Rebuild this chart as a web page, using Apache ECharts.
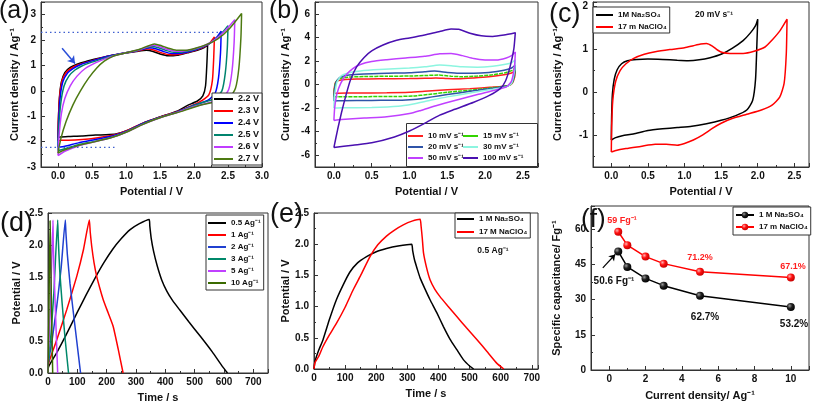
<!DOCTYPE html>
<html><head><meta charset="utf-8">
<script src="https://cdn.jsdelivr.net/npm/echarts@6/dist/echarts.min.js"></script>
<style>html,body{margin:0;padding:0;background:#fff}#c{width:813px;height:404px}</style>
</head><body><div id="c"></div>
<script>
// ---------- Panel (a): CV at different voltage windows ----------
const aLabels = ['2.2 V','2.3 V','2.4 V','2.5 V','2.6 V','2.7 V'];
const a22 = [[0,-1.85],[0.005,-1.2],[0.02,-0.3],[0.05,0.35],[0.1,0.72],[0.18,0.92],[0.28,1.05],[0.4,1.15],[0.6,1.28],[0.8,1.4],[1.0,1.49],[1.15,1.55],[1.3,1.6],[1.4,1.55],[1.5,1.45],[1.62,1.38],[1.75,1.4],[1.9,1.5],[2.05,1.6],[2.15,1.7],[2.2,1.82],[2.19,1.1],[2.17,0.2],[2.13,-0.2],[2.05,-0.4],[1.9,-0.58],[1.75,-0.8],[1.5,-1.03],[1.25,-1.27],[1.0,-1.58],[0.85,-1.7],[0.7,-1.73],[0.55,-1.74],[0.35,-1.78],[0.15,-1.8],[0.03,-1.82],[0,-1.85]];
const a23 = [[0,-1.97],[0.005,-1.2],[0.025,-0.2],[0.06,0.4],[0.12,0.72],[0.2,0.9],[0.3,1.03],[0.45,1.15],[0.6,1.27],[0.8,1.4],[1.0,1.5],[1.15,1.56],[1.32,1.65],[1.42,1.6],[1.52,1.5],[1.64,1.42],[1.78,1.44],[1.95,1.55],[2.1,1.68],[2.22,1.85],[2.3,2.12],[2.29,1.3],[2.27,0.4],[2.22,-0.15],[2.12,-0.38],[2.0,-0.55],[1.75,-0.82],[1.5,-1.03],[1.25,-1.27],[1.0,-1.58],[0.85,-1.72],[0.65,-1.82],[0.45,-1.9],[0.25,-1.94],[0.05,-1.95],[0,-1.97]];
const a24 = [[0,-2.22],[0.008,-1.3],[0.03,-0.3],[0.07,0.35],[0.14,0.7],[0.22,0.88],[0.32,1.02],[0.45,1.14],[0.6,1.26],[0.8,1.4],[1.0,1.5],[1.15,1.57],[1.35,1.7],[1.45,1.65],[1.55,1.55],[1.67,1.47],[1.8,1.48],[1.95,1.56],[2.1,1.7],[2.25,1.9],[2.33,2.1],[2.4,2.35],[2.39,1.5],[2.36,0.5],[2.31,-0.1],[2.2,-0.38],[2.0,-0.57],[1.75,-0.83],[1.5,-1.04],[1.25,-1.28],[1.0,-1.6],[0.8,-1.78],[0.55,-1.92],[0.3,-2.05],[0.1,-2.18],[0,-2.22]];
const a25 = [[0,-2.35],[0.01,-1.5],[0.04,-0.5],[0.09,0.2],[0.16,0.58],[0.25,0.82],[0.35,0.98],[0.5,1.13],[0.65,1.26],[0.8,1.38],[1.0,1.5],[1.15,1.58],[1.38,1.75],[1.48,1.7],[1.58,1.6],[1.7,1.52],[1.82,1.53],[1.97,1.6],[2.12,1.73],[2.27,1.95],[2.4,2.25],[2.5,2.57],[2.49,1.7],[2.46,0.7],[2.41,0.0],[2.3,-0.32],[2.1,-0.48],[1.9,-0.68],[1.75,-0.84],[1.5,-1.05],[1.25,-1.3],[1.0,-1.62],[0.8,-1.82],[0.55,-1.98],[0.3,-2.12],[0.1,-2.28],[0,-2.35]];
const a26 = [[0,-2.55],[0.015,-1.8],[0.05,-0.9],[0.1,-0.3],[0.18,0.2],[0.28,0.58],[0.4,0.88],[0.55,1.1],[0.7,1.27],[0.85,1.4],[1.0,1.5],[1.2,1.62],[1.4,1.8],[1.5,1.74],[1.6,1.64],[1.72,1.56],[1.85,1.57],[2.0,1.65],[2.15,1.78],[2.3,2.0],[2.45,2.35],[2.6,2.8],[2.59,1.9],[2.56,0.8],[2.51,0.05],[2.42,-0.28],[2.25,-0.45],[2.0,-0.62],[1.75,-0.85],[1.5,-1.06],[1.25,-1.32],[1.0,-1.63],[0.8,-1.83],[0.55,-2.0],[0.3,-2.17],[0.1,-2.38],[0,-2.55]];
const a27 = [[0,-2.45],[0.04,-1.9],[0.12,-1.2],[0.22,-0.55],[0.33,0.0],[0.45,0.5],[0.57,0.9],[0.68,1.17],[0.8,1.35],[0.9,1.43],[1.0,1.5],[1.2,1.64],[1.42,1.85],[1.52,1.78],[1.62,1.68],[1.74,1.6],[1.88,1.6],[2.02,1.68],[2.18,1.82],[2.35,2.05],[2.52,2.45],[2.7,3.05],[2.69,2.1],[2.66,0.9],[2.61,0.1],[2.52,-0.28],[2.35,-0.42],[2.1,-0.56],[1.85,-0.78],[1.5,-1.06],[1.25,-1.32],[1.0,-1.63],[0.8,-1.83],[0.55,-2.0],[0.3,-2.15],[0.1,-2.32],[0,-2.45]];
const aGuideHigh = [[-0.25,2.3],[2.4,2.3]];
const aGuideLow = [[-0.25,-2.23],[0.85,-2.23]];
const aArrow = [[0.06,1.68],[0.25,1.08]];

// ---------- Panel (b): CV at different scan rates ----------
const bLabels = ['10 mV s⁻¹','15 mV s⁻¹','20 mV s⁻¹','30 mV s⁻¹','50 mV s⁻¹','100 mV s⁻¹'];
const b10 = [[0,-0.75],[0.005,-0.3],[0.02,0.15],[0.06,0.33],[0.15,0.42],[0.3,0.46],[0.6,0.48],[1.0,0.5],[1.2,0.53],[1.35,0.56],[1.5,0.5],[1.65,0.48],[1.85,0.55],[2.05,0.65],[2.25,0.82],[2.35,0.98],[2.4,1.15],[2.39,0.6],[2.36,0.1],[2.3,-0.1],[2.1,-0.22],[1.8,-0.35],[1.5,-0.45],[1.2,-0.58],[1.0,-0.66],[0.7,-0.7],[0.3,-0.72],[0.05,-0.74],[0,-0.75]];
const b15 = [[0,-1.05],[0.006,-0.4],[0.025,0.2],[0.07,0.48],[0.18,0.62],[0.4,0.67],[0.7,0.7],[1.0,0.72],[1.2,0.76],[1.38,0.8],[1.55,0.7],[1.7,0.66],[1.9,0.72],[2.1,0.82],[2.28,1.02],[2.36,1.2],[2.4,1.45],[2.39,0.8],[2.36,0.15],[2.3,-0.1],[2.1,-0.28],[1.8,-0.48],[1.5,-0.66],[1.25,-0.85],[1.05,-0.98],[0.8,-1.02],[0.4,-1.03],[0.05,-1.04],[0,-1.05]];
const b20 = [[0,-1.4],[0.006,-0.6],[0.03,0.2],[0.08,0.6],[0.2,0.8],[0.4,0.9],[0.7,0.96],[1.0,1.0],[1.2,1.08],[1.33,1.14],[1.5,1.02],[1.65,0.95],[1.85,0.95],[2.05,1.02],[2.25,1.2],[2.35,1.4],[2.4,1.65],[2.39,0.9],[2.36,0.2],[2.3,-0.12],[2.1,-0.32],[1.8,-0.58],[1.5,-0.85],[1.3,-1.05],[1.1,-1.25],[0.9,-1.33],[0.5,-1.35],[0.1,-1.38],[0,-1.4]];
const b30 = [[0,-2.0],[0.008,-1.0],[0.04,0.2],[0.1,0.75],[0.2,1.0],[0.35,1.15],[0.6,1.27],[1.0,1.4],[1.2,1.5],[1.4,1.65],[1.55,1.6],[1.7,1.5],[1.9,1.47],[2.1,1.55],[2.27,1.72],[2.35,1.85],[2.4,2.1],[2.39,1.2],[2.35,0.1],[2.28,-0.2],[2.1,-0.4],[1.8,-0.72],[1.5,-1.05],[1.25,-1.38],[1.05,-1.65],[0.85,-1.85],[0.5,-1.95],[0.1,-1.98],[0,-2.0]];
const b50 = [[0,-3.05],[0.01,-2.0],[0.04,-0.8],[0.09,0.1],[0.16,0.8],[0.25,1.35],[0.35,1.7],[0.5,1.95],[0.7,2.1],[0.95,2.25],[1.2,2.4],[1.4,2.6],[1.55,2.63],[1.7,2.45],[1.85,2.2],[2.0,2.08],[2.15,2.07],[2.28,2.25],[2.35,2.45],[2.4,2.75],[2.39,1.6],[2.35,0.3],[2.28,-0.2],[2.15,-0.45],[1.9,-0.85],[1.6,-1.35],[1.35,-1.8],[1.15,-2.2],[1.0,-2.47],[0.7,-2.73],[0.4,-2.85],[0.1,-2.98],[0,-3.05]];
const b100 = [[0,-5.35],[0.05,-3.8],[0.1,-2.4],[0.16,-0.9],[0.22,0.4],[0.3,1.5],[0.4,2.3],[0.5,2.85],[0.65,3.35],[0.83,3.75],[1.0,3.95],[1.2,4.2],[1.4,4.5],[1.55,4.7],[1.65,4.68],[1.8,4.35],[1.95,4.13],[2.1,4.08],[2.25,4.2],[2.4,4.4],[2.38,3.0],[2.33,1.5],[2.27,0.3],[2.2,-0.35],[2.05,-0.95],[1.85,-1.5],[1.6,-2.1],[1.4,-2.6],[1.2,-3.3],[1.0,-3.95],[0.8,-4.45],[0.5,-4.95],[0.25,-5.15],[0,-5.35]];

// ---------- Panel (c): CV comparison of electrolytes ----------
const cLabels = ['1M Na₂SO₄','17 m NaClO₄'];
const cNa2SO4 = [[0,-1.12],[0.004,-0.6],[0.015,-0.05],[0.04,0.3],[0.08,0.52],[0.14,0.66],[0.22,0.73],[0.35,0.76],[0.5,0.77],[0.7,0.76],[0.9,0.74],[1.05,0.73],[1.2,0.75],[1.35,0.8],[1.5,0.88],[1.65,1.02],[1.8,1.2],[1.9,1.38],[1.97,1.55],[2.0,1.7],[1.99,1.2],[1.97,0.3],[1.93,-0.2],[1.85,-0.42],[1.7,-0.55],[1.5,-0.66],[1.3,-0.74],[1.1,-0.8],[0.9,-0.83],[0.7,-0.86],[0.5,-0.9],[0.3,-0.98],[0.15,-1.02],[0.05,-1.07],[0,-1.12]];
const cNaClO4 = [[0,-1.4],[0.005,-0.8],[0.02,-0.2],[0.06,0.25],[0.12,0.5],[0.2,0.66],[0.3,0.78],[0.45,0.88],[0.6,0.94],[0.8,0.99],[1.0,1.03],[1.12,1.08],[1.22,1.12],[1.3,1.13],[1.38,1.07],[1.45,0.98],[1.52,0.92],[1.62,0.9],[1.8,0.9],[1.95,0.95],[2.1,1.05],[2.2,1.22],[2.3,1.42],[2.4,1.7],[2.39,0.9],[2.36,0.2],[2.3,-0.12],[2.2,-0.3],[2.05,-0.42],[1.85,-0.52],[1.65,-0.62],[1.5,-0.73],[1.38,-0.85],[1.25,-1.0],[1.12,-1.12],[1.0,-1.2],[0.9,-1.24],[0.75,-1.22],[0.6,-1.22],[0.4,-1.27],[0.2,-1.32],[0.05,-1.37],[0,-1.4]];

// ---------- Panel (d): GCD at different current densities ----------
const dLabels = ['0.5 Ag⁻¹','1 Ag⁻¹','2 Ag⁻¹','3 Ag⁻¹','5 Ag⁻¹','10 Ag⁻¹'];
const d05 = [[0,0],[2,0.1],[30,0.32],[60,0.58],[100,0.95],[130,1.22],[160,1.48],[190,1.72],[220,1.93],[250,2.1],[280,2.24],[310,2.33],[345,2.4],[347,2.3],[352,2.1],[360,1.9],[372,1.68],[388,1.45],[405,1.28],[425,1.13],[450,0.98],[480,0.8],[520,0.57],[560,0.33],[595,0.1],[612,0]];
const d1 = [[0,0],[2,0.15],[30,0.52],[64,0.99],[98,1.51],[121,1.93],[141,2.39],[144,2.2],[149,1.98],[157,1.72],[166,1.51],[177,1.32],[188,1.15],[205,0.94],[222,0.73],[239,0.38],[256,0]];
const d2 = [[0,0],[1,0.15],[15,0.55],[30,1.05],[45,1.65],[59,2.39],[61,2.2],[66,1.85],[75,1.4],[85,1.0],[98,0.5],[111,0]];
const d3 = [[0,0],[1,0.15],[10,0.6],[20,1.25],[33,2.39],[35,2.1],[40,1.6],[48,1.1],[58,0.55],[70,0]];
const d5 = [[0,0],[0.5,0.2],[8,1.0],[17,2.39],[18,2.0],[22,1.4],[27,0.75],[33,0]];
const d10 = [[0,0],[3,0.9],[7,2.38],[9,1.9],[12,1.0],[16,0]];

// ---------- Panel (e): GCD comparison at 0.5 A/g ----------
const eLabels = ['1 M Na₂SO₄','17 M NaClO₄'];
const eNa2SO4 = [[0,0],[3,0.12],[15,0.3],[29,0.47],[50,0.8],[72,1.11],[95,1.36],[115,1.55],[140,1.7],[169,1.8],[200,1.88],[233,1.93],[270,1.97],[314,2.0],[317,1.9],[323,1.75],[332,1.6],[341,1.46],[357,1.28],[373,1.11],[395,0.9],[416,0.68],[437,0.48],[459,0.31],[480,0.15],[502,0.04],[513,0]];
const eNaClO4 = [[0,0],[3,0.1],[15,0.2],[29,0.36],[50,0.55],[72,0.73],[100,0.99],[126,1.27],[150,1.5],[180,1.8],[205,1.99],[233,2.13],[260,2.23],[287,2.31],[315,2.37],[341,2.4],[344,2.3],[348,2.1],[352,1.86],[362,1.62],[373,1.43],[388,1.28],[405,1.16],[430,1.01],[459,0.84],[490,0.66],[524,0.47],[556,0.28],[588,0.09],[610,0]];

// ---------- Panel (f): specific capacitance vs current density ----------
const fLabels = ['1 M Na₂SO₄','17 m NaClO₄'];
const fCurrent = [0.5,1,2,3,5,10];
const fNa2SO4 = [50.6,44,39.1,36,31.7,26.9];
const fNaClO4 = [59,53.3,48.4,45.4,41.9,39.5];
const fArrow = [[-0.35,43.6],[0.33,49.3]];

// ---------- build ----------
const F = 'Liberation Sans, Arial, sans-serif';
const TXT = '#111';
const grids = [
  {left:41, top:2, width:221, height:165},
  {left:315, top:2, width:223, height:165},
  {left:593, top:2, width:216, height:165},
  {left:48, top:213, width:220, height:160},
  {left:314, top:213, width:224, height:156},
  {left:591, top:206, width:218, height:164}
].map(g => Object.assign({show:true, borderColor:'#333', borderWidth:1, backgroundColor:'transparent'}, g));

function ax(gi, min, max, name, gap, lab, extra) {
  return Object.assign({
    type:'value', gridIndex:gi, min:min, max:max, name:name, nameLocation:'middle', nameGap:gap,
    nameTextStyle:{fontFamily:F, fontWeight:'bold', fontSize:11, color:TXT},
    axisLine:{show:true, onZero:false, lineStyle:{color:'#333', width:1}},
    axisTick:{show:true, inside:true, length:4, lineStyle:{color:'#333'}},
    minorTick:{show:true, splitNumber:2, length:2, lineStyle:{color:'#333'}},
    splitLine:{show:false}, minorSplitLine:{show:false},
    axisLabel:Object.assign({fontFamily:F, fontWeight:'bold', fontSize:10, color:TXT, margin:4}, lab||{})
  }, extra||{});
}
const f1 = v => v.toFixed(1);
const xAxes = [
  ax(0,-0.25,3,'Potential / V',19,{formatter:f1, showMinLabel:false, showMaxLabel:true},{splitNumber:6}),
  ax(1,-0.25,2.7,'Potential / V',19,{formatter:f1, showMinLabel:false, showMaxLabel:false},{splitNumber:6}),
  ax(2,-0.25,2.7,'Potential / V',19,{formatter:f1, showMinLabel:false, showMaxLabel:false},{splitNumber:6}),
  ax(3,0,750,'Time / s',19,{showMinLabel:true, showMaxLabel:false},{interval:100}),
  ax(4,0,720,'Time / s',19,{showMinLabel:true, showMaxLabel:false},{interval:100}),
  ax(5,-1,11,'Current density/ Ag⁻¹',20,{showMinLabel:false, showMaxLabel:false},{splitNumber:6})
];
const yAxes = [
  ax(0,-3,3.5,'Current density / Ag⁻¹',21,{margin:5, showMinLabel:true, showMaxLabel:false},{splitNumber:6}),
  ax(1,-7,7,'Current density / Ag⁻¹',24,{margin:5, showMinLabel:false, showMaxLabel:false},{splitNumber:7}),
  ax(2,-1.75,2.1,'Current density / Ag⁻¹',30,{margin:5, showMinLabel:false, showMaxLabel:false},{splitNumber:4}),
  ax(3,0,2.5,'Potential / V',26,{formatter:f1, margin:5, showMinLabel:true, showMaxLabel:true},{interval:0.5}),
  ax(4,0,2.5,'Potential / V',23,{formatter:f1, margin:5, showMinLabel:true, showMaxLabel:true},{interval:0.5}),
  ax(5,0,70,'Specific capacitance/ Fg⁻¹',29,{margin:5, showMinLabel:true, showMaxLabel:false},{interval:15})
];

function ln(name, gi, data, color, extra) {
  return Object.assign({
    type:'line', name:name, xAxisIndex:gi, yAxisIndex:gi, data:data,
    symbol:'none', showSymbol:false, smooth:0.2, animation:false, silent:true,
    lineStyle:{color:color, width:1.5}, itemStyle:{color:color}
  }, extra||{});
}
const aColors = ['#000000','#ff0000','#0000ff','#00846e','#c03cff','#4d7a12'];
const bColors = ['#ff2020','#33d400','#2f54a8','#8cf5e0','#c040ff','#4a10b0'];
const dColors = ['#000000','#ff0000','#2040d0','#00886a','#c040ff','#3a6a00'];

const series = [];
[a22,a23,a24,a25,a26,a27].forEach((d,i)=>series.push(ln('a'+i,0,d,aColors[i])));
series.push(ln('aGuideH',0,aGuideHigh,'#4060d0',{smooth:false, lineStyle:{color:'#4060d0', width:1.2, type:[1.5,3]}}));
series.push(ln('aGuideL',0,aGuideLow,'#4060d0',{smooth:false, lineStyle:{color:'#4060d0', width:1.2, type:[1.5,3]},
  markLine:{silent:true, symbol:['none','arrow'], symbolSize:7, label:{show:false},
    lineStyle:{color:'#2a4fd8', width:1.5, type:'solid'},
    data:[[{coord:aArrow[0]},{coord:aArrow[1]}]]}}));
[b10,b15,b20,b30,b50,b100].forEach((d,i)=>series.push(ln('b'+i,1,d,bColors[i], i===1?{lineStyle:{color:bColors[i], width:1.5, type:[4,1]}}:{})));
series.push(ln('c0',2,cNa2SO4,'#000000'));
series.push(ln('c1',2,cNaClO4,'#ff0000'));
[d05,d1,d2,d3,d5,d10].forEach((d,i)=>series.push(ln('d'+i,3,d,dColors[i],{smooth:0.15})));
series.push(ln('e0',4,eNa2SO4,'#000000',{smooth:0.15}));
series.push(ln('e1',4,eNaClO4,'#ff0000',{smooth:0.15}));
function ball(c1,c2,c3){return {type:'radial',x:0.35,y:0.35,r:0.7,colorStops:[{offset:0,color:c1},{offset:0.45,color:c2},{offset:1,color:c3}]};}
series.push(ln('f0',5,fCurrent.map((x,i)=>[x,fNa2SO4[i]]),'#000000',{smooth:false, symbol:'circle', showSymbol:true, symbolSize:8,
  itemStyle:{color:ball('#9a9a9a','#202020','#000000')},
  markLine:{silent:true, symbol:['none','arrow'], symbolSize:6, label:{show:false},
    lineStyle:{color:'#000', width:1.2, type:'solid'}, data:[[{coord:fArrow[0]},{coord:fArrow[1]}]]}}));
series.push(ln('f1',5,fCurrent.map((x,i)=>[x,fNaClO4[i]]),'#ff0000',{smooth:false, symbol:'circle', showSymbol:true, symbolSize:8,
  itemStyle:{color:ball('#ffb0b0','#ff1010','#c00000')}}));

const legText = {fontFamily:F, fontWeight:'bold', fontSize:8, color:TXT, lineHeight:10};
function leg(names, labels, o) {
  const map = {}; names.forEach((n,i)=>map[n]=labels[i]);
  return Object.assign({
    orient:'vertical', data:names, formatter:n=>map[n], selectedMode:false,
    icon:'rect', itemWidth:19, itemHeight:2, itemGap:2, textStyle:legText,
    borderColor:'#333', borderWidth:1, backgroundColor:'#fff', padding:[2,3,2,2]
  }, o);
}
const legends = [
  leg(['a0','a1','a2','a3','a4','a5'], aLabels, {left:212, top:93, padding:[1,3,1,2], textStyle:Object.assign({}, legText, {fontSize:9})}),
  leg(['b0','b2','b4'], [bLabels[0],bLabels[2],bLabels[4]], {left:408, top:131, itemWidth:15, itemGap:1, borderWidth:0, backgroundColor:'transparent', padding:0}),
  leg(['b1','b3','b5'], [bLabels[1],bLabels[3],bLabels[5]], {left:463, top:131, itemWidth:15, itemGap:1, borderWidth:0, backgroundColor:'transparent', padding:0}),
  leg(['c0','c1'], cLabels, {left:593, top:7, itemWidth:17, padding:[3,3,1,3]}),
  leg(['d0','d1','d2','d3','d4','d5'], dLabels, {left:206, top:215, itemWidth:18, padding:[3,3,2,2]}),
  leg(['e0','e1'], eLabels, {left:455, top:213, itemWidth:17, itemGap:3, padding:[1,3,1,2]}),
  leg(['f0','f1'], fLabels, {left:733, top:207, itemWidth:18, itemHeight:8, padding:[3,3,3,2]})
];
delete legends[6].icon;

function t(x,y,text,o){return {type:'text', x:x, y:y, z:10, silent:true, style:Object.assign({text:text, fontFamily:F, fontWeight:'bold', fontSize:10, fill:TXT, align:'center', verticalAlign:'middle'}, o||{})};}
const big = {fontSize:27, fontWeight:'normal', align:'left', verticalAlign:'top'};
const graphic = [
  {type:'rect', z:3, silent:true, shape:{x:406.5, y:123.5, width:131, height:43}, style:{fill:'#fff', stroke:'#333', lineWidth:1}},
  t(-1,-1,'(a)',Object.assign({},big,{fontSize:25})), t(269,-1,'(b)',Object.assign({},big,{fontSize:25})), t(549,1,'(c)',big),
  t(0,210,'(d)',big), t(270,201,'(e)',big), t(581,207,'(f)',Object.assign({},big,{fontSize:26})),
  t(714,15,'20 mV s⁻¹',{fontSize:8.5}),
  t(493,251,'0.5 Ag⁻¹',{fontSize:8.5}),
  t(622,221,'59 Fg⁻¹',{fill:'#ff2020', fontSize:9}),
  t(700,258,'71.2%',{fill:'#ff2020', fontSize:9}),
  t(793,267,'67.1%',{fill:'#ff2020', fontSize:9}),
  t(614,281,'50.6 Fg⁻¹',{fontSize:10}),
  t(705,317,'62.7%',{fontSize:10}),
  t(794,324,'53.2%',{fontSize:10})
];

const chart = echarts.init(document.getElementById('c'), null, {renderer:'canvas'});
chart.setOption({
  animation:false, backgroundColor:'#fff',
  grid:grids, xAxis:xAxes, yAxis:yAxes, series:series, legend:legends, graphic:graphic
});
</script></body></html>
